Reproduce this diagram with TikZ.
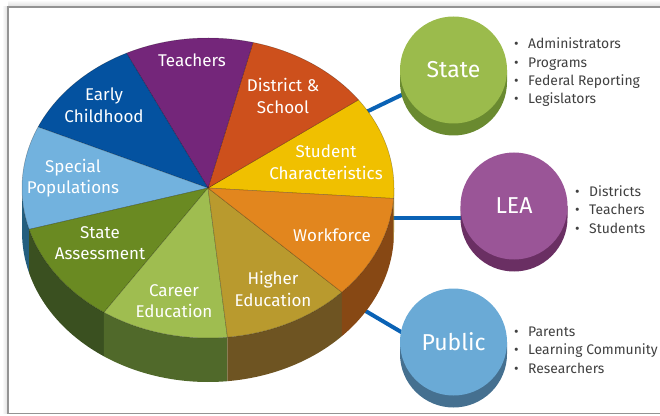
\documentclass[tikz,border=0pt]{standalone}
\usepackage{fontspec}
\setmainfont{Fira Sans}
\usetikzlibrary{calc,backgrounds}
\definecolor{cTeach}{HTML}{74267A}
\definecolor{cDist}{HTML}{CD501C}
\definecolor{cStud}{HTML}{F0C000}
\definecolor{cWork}{HTML}{E2861E}
\definecolor{cHigh}{HTML}{B99A2E}
\definecolor{cCar}{HTML}{9FBD50}
\definecolor{cSA}{HTML}{6A8A22}
\definecolor{cSpec}{HTML}{72B2DE}
\definecolor{cEarly}{HTML}{0452A0}
\definecolor{sSpec}{HTML}{245E7E}
\definecolor{sSA}{HTML}{3A5020}
\definecolor{sCar}{HTML}{50692A}
\definecolor{sHigh}{HTML}{6E5422}
\definecolor{sWork}{HTML}{874814}
\definecolor{sStud}{HTML}{A08000}
\definecolor{stTop}{HTML}{9BBB4C}
\definecolor{stSide}{HTML}{6A8A30}
\definecolor{leTop}{HTML}{9A5597}
\definecolor{leSide}{HTML}{6A2F63}
\definecolor{puTop}{HTML}{6AAAD6}
\definecolor{puSide}{HTML}{457090}
\definecolor{connC}{HTML}{0A62B5}
\definecolor{listC}{HTML}{404040}
\newcommand\myslice[3]{\fill[#3, draw=black, draw opacity=0.3, line width=0.5] (C) -- ++(#1:186 and 150) arc[start angle=#1,end angle=#2,x radius=186,y radius=150] -- cycle;}
\newcommand\myside[3]{\fill[#3] (C) ++(#1:186 and 150) arc[start angle=#1,end angle=#2,x radius=186,y radius=150] -- ++(0,-44) arc[start angle=#2,end angle=#1,x radius=186,y radius=150] -- cycle;}
\begin{document}
\begin{tikzpicture}[x=1pt,y=1pt,
  lbl/.style={text=white, font=\fontsize{17}{21.5}\selectfont, align=center, inner sep=0},
  cyl/.style={circle, minimum size=107, inner sep=0, text=white, font=\fontsize{23}{23}\selectfont},
  conn/.style={draw=connC, line width=4},
  blist/.style={anchor=west, align=left, text=listC, inner sep=0, font=\fontsize{13.9}{18.3}\selectfont},
  frame/.style={draw=gray!85, line width=1.5}]
\useasboundingbox (0,0) rectangle (660,415);
% frame
\shade[top color=white, bottom color=gray!25] (8,408.5) rectangle (670,415);
\shade[left color=white, right color=gray!25] (2,1.5) rectangle (7.5,408);
\draw[frame] (670,408) -- (8,408) -- (8,1.5) -- (670,1.5);
\coordinate (C) at (208,227);
\coordinate (pL) at (380,197);
\coordinate (pP) at (330,125);
% pie sides
\myside{180}{196}{sSpec}
\myside{196}{236}{sSA}
\myside{236}{276}{sCar}
\myside{276}{316}{sHigh}
\myside{316}{356}{sWork}
\myside{356}{360}{sStud}
% pie top
\myslice{-4}{36}{cStud}
\myslice{36}{76}{cDist}
\myslice{76}{116}{cTeach}
\myslice{116}{156}{cEarly}
\myslice{156}{196}{cSpec}
\myslice{196}{236}{cSA}
\myslice{236}{276}{cCar}
\myslice{276}{316}{cHigh}
\myslice{316}{356}{cWork}
% labels
\node[lbl] (lTeach) at (192,355) {Teachers};
\node[lbl] (lDist) at (283,319) {District \&\\School};
\node[lbl] (lStud) at (326,253) {Student\\Characteristics};
\node[lbl] (lWork) at (332,180) {Workforce};
\node[lbl] (lHigh) at (273,126) {Higher\\Education};
\node[lbl] (lCar) at (174,114) {Career\\Education};
\node[lbl] (lSA) at (100,172) {State\\Assessment};
\node[lbl] (lSpec) at (73,237) {Special\\Populations};
\node[lbl] (lEarly) at (104,310) {Early\\Childhood};
% cylinders
\coordinate (cS) at (453.5,345);
\coordinate (cL) at (514,209);
\coordinate (cP) at (453.5,73);
\fill[stSide] (cS) ++(-53.5,0) -- ++(0,-12) arc[start angle=180,end angle=360,radius=53.5] -- ++(0,12) -- cycle;
\node[cyl, fill=stTop] (state) at (cS) {State};
\fill[leSide] (cL) ++(-53.5,0) -- ++(0,-12) arc[start angle=180,end angle=360,radius=53.5] -- ++(0,12) -- cycle;
\node[cyl, fill=leTop] (lea) at (cL) {LEA};
\fill[puSide] (cP) ++(-53.5,0) -- ++(0,-12) arc[start angle=180,end angle=360,radius=53.5] -- ++(0,12) -- cycle;
\node[cyl, fill=puTop] (public) at (cP) {Public};
% connectors
\begin{pgfonlayer}{background}
\draw[conn] (C) -- (state.center);
\draw[conn] (pL) -- (pL -| lea.center);
\draw[conn] (pP) -- ([shift={(-23.5,-7)}]public.center);
\end{pgfonlayer}
% lists
\node[blist] (stList) at (514,342.5) {\makebox[14pt][l]{\textbullet}Administrators\\\makebox[14pt][l]{\textbullet}Programs\\\makebox[14pt][l]{\textbullet}Federal Reporting\\\makebox[14pt][l]{\textbullet}Legislators};
\node[blist] (leList) at (575,205.5) {\makebox[14pt][l]{\textbullet}Districts\\\makebox[14pt][l]{\textbullet}Teachers\\\makebox[14pt][l]{\textbullet}Students};
\node[blist] (puList) at (514,65) {\makebox[14pt][l]{\textbullet}Parents\\\makebox[14pt][l]{\textbullet}Learning Community\\\makebox[14pt][l]{\textbullet}Researchers};
\end{tikzpicture}
\end{document}
